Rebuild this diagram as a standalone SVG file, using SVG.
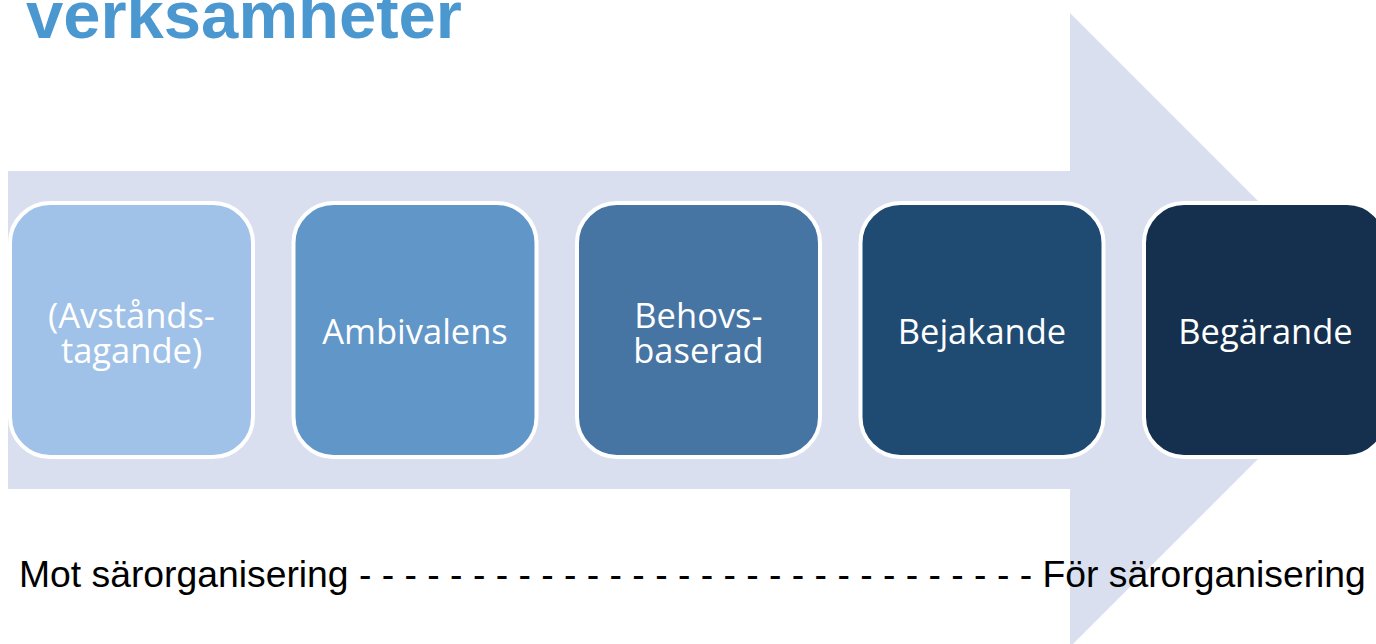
<svg xmlns="http://www.w3.org/2000/svg" width="1376" height="644" viewBox="0 0 1376 644">
<style>
.box{stroke:#ffffff;stroke-width:4}
.lbl{font-family:"Open Sans","Noto Sans",sans-serif;font-size:34.5px;fill:#ffffff;text-anchor:middle}
.cap{font-family:"Liberation Sans",Arial,sans-serif;font-size:37.3px;fill:#000000}
.title{font-family:"Liberation Sans",Arial,sans-serif;font-size:67px;font-weight:bold;fill:#4B98D1}
</style>
<rect width="1376" height="644" fill="#ffffff"/>
<text class="title" x="26" y="38">verksamheter</text>
<g id="arrow">
<polygon points="8,171 1070,171 1070,13 1387,330 1070,647 1070,489 8,489" fill="#D9DFEE"/>
</g>
<g id="connectors"></g>
<g id="n1">
<rect class="box" x="10" y="203" width="243" height="254" rx="40" fill="#A0C2E8"/>
<text class="lbl" x="131.5" y="328">(Avstånds-<tspan x="131.5" dy="35">tagande)</tspan></text>
</g>
<g id="n2">
<rect class="box" x="293.5" y="203" width="243" height="254" rx="40" fill="#6196C9"/>
<text class="lbl" x="415" y="344">Ambivalens</text>
</g>
<g id="n3">
<rect class="box" x="577" y="203" width="243" height="254" rx="40" fill="#4674A3"/>
<text class="lbl" x="698.5" y="328">Behovs-<tspan x="698.5" dy="35">baserad</tspan></text>
</g>
<g id="n4">
<rect class="box" x="860.5" y="203" width="243" height="254" rx="40" fill="#1F4A72"/>
<text class="lbl" x="982" y="344">Bejakande</text>
</g>
<g id="n5">
<rect class="box" x="1144" y="203" width="243" height="254" rx="40" fill="#15304E"/>
<text class="lbl" x="1265.5" y="344">Begärande</text>
</g>
<text class="cap" x="19" y="587">Mot särorganisering - - - - - - - - - - - - - - - - - - - - - - - - - - - - - - För särorganisering</text>
</svg>
